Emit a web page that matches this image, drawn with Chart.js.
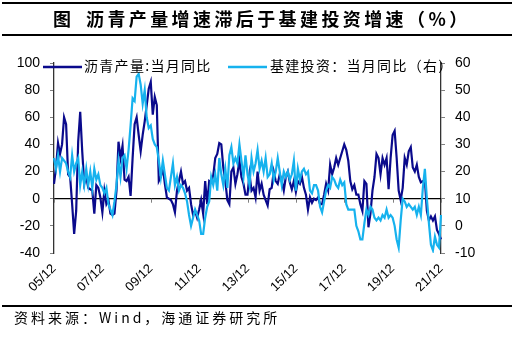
<!DOCTYPE html>
<html>
<head>
<meta charset="utf-8">
<script src="https://cdn.jsdelivr.net/npm/chart.js@4.4.0/dist/chart.umd.min.js"></script>
<style>
  html, body { margin: 0; padding: 0; background: #fff; }
  #wrap { width: 519px; height: 346px; }
</style>
</head>
<body>
<div id="wrap"><canvas id="chart1" width="519" height="346"></canvas></div>
<script>
// monthly, 2005/12 .. 2021/12
const months = []
for (let i = 0; i < 193; i++) {
    const yr = 5 + Math.floor((11 + i) / 12)
    const mo = (11 + i) % 12 + 1
    months.push(String(yr).padStart(2, '0') + '/' + String(mo).padStart(2, '0'))
}

const xTickLabels = ['05/12', '07/12', '09/12', '11/12', '13/12', '15/12', '17/12', '19/12', '21/12']
const leftTicks = [-40, -20, 0, 20, 40, 60, 80, 100]
const rightTicks = [-10, 0, 10, 20, 30, 40, 50, 60]

const seriesNames = ['沥青产量:当月同比', '基建投资：当月同比（右）']

// 沥青产量:当月同比 (left axis)
const asphalt = [
    11, 23, 41, 33, 40, 60, 55, 18, 16, -4,
    -26, -9, 42, 64, 35, 11, 16, 8, 7, 6,
    -11, 10, 8, 1, -10, 6, -4, -1, -11, -12,
    -11, 6, 42, 30, 39, 14, 13, 16, 2, 30,
    55, 60, 47, 35, 47, 57, 69, 81, 86, 62,
    75, 69, 13, 16, 23, 11, 1, 0, -1, -4,
    -10, 6, 13, 20, 11, 13, 6, 8, -4, -12,
    -9, -14, -8, -1, -11, 13, -4, 13, 12, 17,
    30, 33, 41, 40, 23, 13, -1, -4, 20, 23,
    11, 18, 28, 16, 11, 3, 3, 18, 6, 8,
    1, 20, 6, 11, 3, -1, -5, 7, 8, 20,
    13, 11, 18, 13, 6, 16, 20, 12, 7, 13,
    5, 13, 11, 16, 8, 3, -8, 1, -3, 0,
    -1, 1, -4, -4, 3, 11, 6, 25, 18, 23,
    30, 25, 30, 35, 40, 36, 28, 13, 7, 10,
    3, 3, -4, -9, 13, 11, -21, -11, 6, 16,
    33, 30, 18, 30, 25, 30, 7, 30, 47, 50,
    30, 6, -1, 8, 30, 25, 35, 38, 23, 20,
    25, 16, 12, 13, 14, -9, -16, -13, -16, -13,
    -23, -26, -30
]

// 基建投资：当月同比 (right axis)
const infra = [
    25, 21, 26, 20, 25, 24, 23, 20, 18, 26,
    20, 23, 25, 15, 20, 15, 21, 15, 20, 14,
    21, 17, 19, 15, 14, 12, 14, 8, 6, 4,
    9, 15, 24, 18, 25, 26, 21, 28, 37, 47,
    46, 55, 56, 52, 45, 50, 40, 36, 37, 32,
    30, 29, 24, 18, 24, 19, 14, 13, 18, 23,
    15, 18, 13, 15, 14, 12, 9, 4, 0, 3,
    6, 4, 2, -3, -3, 3, 7, 9, 18, 15,
    19, 13, 25, 19, 15, 21, 14, 26, 29, 23,
    25, 23, 30, 24, 18, 26, 19, 15, 25, 20,
    23, 28, 21, 24, 20, 25, 18, 19, 23, 17,
    20, 25, 20, 15, 20, 18, 20, 17, 19, 24,
    13, 21, 17, 20, 21, 19, 20, 13, 12, 15,
    15, 13, 7, 5, 9, 13, 15, 14, 18, 17,
    15, 14, 17, 15, 16, 8, 6, 6, 6, 6,
    0, -2, -5, -5, 1, 6, 4, 7, 6, 3,
    2, 3, 2, 4, 3, 6, 3, 4, 3, 0,
    -5, -8, 2, 10, 9, 7, 8, 7, 6, 7,
    4, 7, 4, 14, 21, 10, 1, -7, -9, -4,
    -7, -8, 4
]

const navy = '#0a0a8c'
const sky = '#16b2ee'
const cjk = '"Noto Sans CJK SC", sans-serif'

const decor = {
    id: 'decor',
    beforeDatasetsDraw(chart) {
        const ctx = chart.ctx
        const a = chart.chartArea
        const y0 = chart.scales.y.getPixelForValue(0)
        ctx.save()
        ctx.strokeStyle = '#000'
        ctx.lineWidth = 1.3
        ctx.beginPath()
        ctx.moveTo(a.left, y0)
        ctx.lineTo(a.right, y0)
        ctx.stroke()
        ctx.strokeStyle = '#808080'
        ctx.lineWidth = 1
        for (let i = 0; i < months.length; i++) {
            if (!xTickLabels.includes(months[i])) continue
            const x = Math.round(chart.scales.x.getPixelForValue(i)) + 0.5
            ctx.beginPath()
            ctx.moveTo(x, y0)
            ctx.lineTo(x, y0 + 4)
            ctx.stroke()
        }
        ctx.restore()
    },
    afterDraw(chart) {
        const ctx = chart.ctx
        ctx.save()
        // rules
        ctx.fillStyle = '#000'
        ctx.fillRect(2, 2, 510, 2)
        ctx.fillRect(2, 34, 510, 2)
        ctx.fillRect(2, 305, 510, 2)
        // title
        ctx.textBaseline = 'middle'
        ctx.font = 'bold 18px ' + cjk
        ctx.fillText('图', 53, 19)
        ctx.letterSpacing = '3.4px'
        ctx.fillText('沥青产量增速滞后于基建投资增速（%）', 86, 19)
        // legend
        const ds = chart.data.datasets
        const legendX = [[43, 82, 84], [228, 267, 270]]
        ctx.font = '14px ' + cjk
        ctx.letterSpacing = '1.3px'
        for (let k = 0; k < 2; k++) {
            ctx.strokeStyle = ds[k].borderColor
            ctx.lineWidth = 2.5
            ctx.beginPath()
            ctx.moveTo(legendX[k][0], 67)
            ctx.lineTo(legendX[k][1], 67)
            ctx.stroke()
            ctx.fillStyle = '#000'
            ctx.fillText(ds[k].label, legendX[k][2], 66)
        }
        // source
        ctx.font = '14px ' + cjk
        ctx.letterSpacing = '3px'
        ctx.fillText('资料来源：Wind，海通证券研究所', 14, 318)
        ctx.restore()
    }
}

new Chart(document.getElementById('chart1'), {
    type: 'line',
    data: {
        labels: months,
        datasets: [{
            label: seriesNames[0],
            data: asphalt,
            yAxisID: 'y',
            borderColor: navy,
            borderWidth: 2.2,
            pointRadius: 0,
            tension: 0,
            order: 1
        }, {
            label: seriesNames[1],
            data: infra,
            yAxisID: 'y1',
            borderColor: sky,
            borderWidth: 2.2,
            pointRadius: 0,
            tension: 0,
            order: 0
        }]
    },
    options: {
        responsive: false,
        animation: false,
        layout: { padding: { top: 63, left: 0, right: 0, bottom: 0 } },
        plugins: {
            legend: { display: false },
            tooltip: { enabled: false }
        },
        scales: {
            x: {
                grid: { display: false, drawTicks: false },
                border: { display: false },
                ticks: {
                    autoSkip: false,
                    maxRotation: 45,
                    minRotation: 45,
                    padding: 8,
                    color: '#000',
                    font: { family: '"Liberation Sans", Arial, sans-serif', size: 13 },
                    callback: function (value) {
                        const lab = months[value]
                        return xTickLabels.includes(lab) ? lab : ''
                    }
                },
                afterFit: (scale) => { scale.height = 93 }
            },
            y: {
                position: 'left',
                min: leftTicks[0],
                max: leftTicks[leftTicks.length - 1],
                grid: { drawOnChartArea: false, drawTicks: true, tickLength: 4, color: '#808080' },
                border: { display: true, color: '#333', width: 1.3 },
                ticks: {
                    stepSize: 20,
                    padding: 10,
                    color: '#000',
                    font: { family: '"Liberation Sans", Arial, sans-serif', size: 14 }
                },
                afterFit: (scale) => { scale.width = 54 }
            },
            y1: {
                position: 'right',
                min: rightTicks[0],
                max: rightTicks[rightTicks.length - 1],
                grid: { drawOnChartArea: false, drawTicks: true, tickLength: 4, color: '#808080' },
                border: { display: true, color: '#333', width: 1.3 },
                ticks: {
                    stepSize: 10,
                    padding: 10,
                    color: '#000',
                    font: { family: '"Liberation Sans", Arial, sans-serif', size: 14 }
                },
                afterFit: (scale) => { scale.width = 78 }
            }
        }
    },
    plugins: [decor]
});
</script>
</body>
</html>
